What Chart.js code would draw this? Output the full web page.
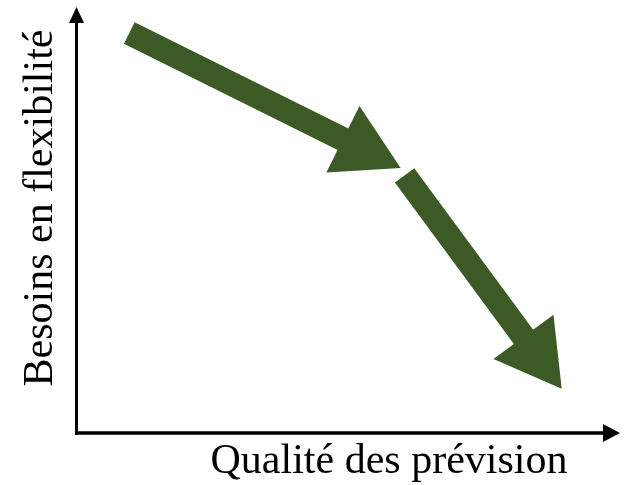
<!DOCTYPE html>
<html>
<head>
<meta charset="utf-8">
<script src="https://cdn.jsdelivr.net/npm/chart.js@4/dist/chart.umd.min.js"></script>
<style>
  html, body { margin: 0; padding: 0; background: #fff; }
</style>
</head>
<body>
<canvas id="chart" width="625" height="485"></canvas>
<script>
const xTitle = 'Qualité des prévision';
const yTitle = 'Besoins en flexibilité';

// each arrow: first point = tail of the shaft, second point = centre of the head
const arrowAX = [9.8, 52.6];
const arrowAY = [93.9, 66.7];
const arrowBX = [60.4, 84.6];
const arrowBY = [60.5, 18.5];

const green = '#3b5a25';

function toPoints(xs, ys) {
  return xs.map((x, i) => ({ x: x, y: ys[i] }));
}

// turn the triangle so that it points along the shaft
function headRotation(ctx) {
  const pts = ctx.dataset.data;
  const { x, y } = ctx.chart.scales;
  const a = pts[0], b = pts[pts.length - 1];
  const dx = x.getPixelForValue(b.x) - x.getPixelForValue(a.x);
  const dy = y.getPixelForValue(b.y) - y.getPixelForValue(a.y);
  return Math.atan2(dy, dx) * 180 / Math.PI + 90;
}

function arrowDataset(xs, ys) {
  return {
    data: toPoints(xs, ys),
    borderColor: green,
    backgroundColor: green,
    borderWidth: 24,
    borderCapStyle: 'butt',
    tension: 0,
    pointStyle: 'triangle',
    pointRadius: ctx => ctx.dataIndex === ctx.dataset.data.length - 1 ? 43 : 0,
    pointRotation: headRotation,
    pointBackgroundColor: green,
    pointBorderWidth: 0,
    clip: false
  };
}

// axis lines with arrow heads, and the two axis titles
const axesPlugin = {
  id: 'axesArrows',
  beforeDatasetsDraw(chart) {
    const ctx = chart.ctx;
    const { left, right, top, bottom } = chart.chartArea;
    const x0 = left + 0.5;

    ctx.save();
    ctx.strokeStyle = '#000';
    ctx.fillStyle = '#000';

    ctx.lineWidth = 3;
    ctx.beginPath();
    ctx.moveTo(x0, bottom + 2);
    ctx.lineTo(x0, top + 14);
    ctx.stroke();
    ctx.beginPath();
    ctx.moveTo(x0, top);
    ctx.lineTo(x0 - 7.5, top + 16);
    ctx.lineTo(x0 + 7.5, top + 16);
    ctx.closePath();
    ctx.fill();

    ctx.lineWidth = 3.5;
    ctx.beginPath();
    ctx.moveTo(x0 - 1.5, bottom);
    ctx.lineTo(right - 15, bottom);
    ctx.stroke();
    ctx.beginPath();
    ctx.moveTo(right, bottom);
    ctx.lineTo(right - 17, bottom - 9);
    ctx.lineTo(right - 17, bottom + 9);
    ctx.closePath();
    ctx.fill();

    ctx.font = '42px "Liberation Serif"';
    ctx.textAlign = 'center';
    ctx.textBaseline = 'alphabetic';
    ctx.fillText(xTitle, 389, bottom + 40);

    ctx.translate(52, 208);
    ctx.rotate(-Math.PI / 2);
    ctx.fillText(yTitle, 0, 0);
    ctx.restore();
  }
};

new Chart(document.getElementById('chart').getContext('2d'), {
  type: 'line',
  data: {
    datasets: [
      arrowDataset(arrowAX, arrowAY),
      arrowDataset(arrowBX, arrowBY)
    ]
  },
  options: {
    responsive: false,
    animation: false,
    events: [],
    layout: {
      autoPadding: false,
      padding: { left: 76, top: 7, right: 5, bottom: 52 }
    },
    plugins: {
      legend: { display: false },
      tooltip: { enabled: false }
    },
    scales: {
      x: { type: 'linear', min: 0, max: 100, display: false },
      y: { type: 'linear', min: 0, max: 100, display: false }
    }
  },
  plugins: [axesPlugin]
});
</script>
</body>
</html>
